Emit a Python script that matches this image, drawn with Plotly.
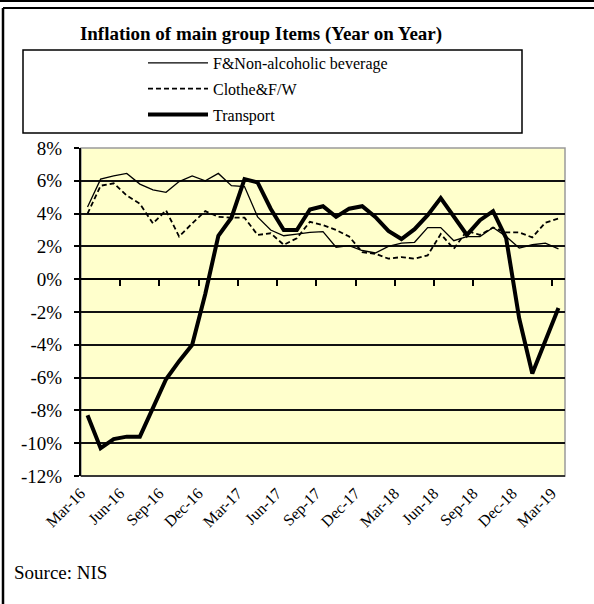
import plotly.graph_objects as go

months = ["Mar-16","Apr-16","May-16","Jun-16","Jul-16","Aug-16","Sep-16","Oct-16","Nov-16","Dec-16",
          "Jan-17","Feb-17","Mar-17","Apr-17","May-17","Jun-17","Jul-17","Aug-17","Sep-17","Oct-17",
          "Nov-17","Dec-17","Jan-18","Feb-18","Mar-18","Apr-18","May-18","Jun-18","Jul-18","Aug-18",
          "Sep-18","Oct-18","Nov-18","Dec-18","Jan-19","Feb-19","Mar-19"]

food = [4.4, 6.1, 6.3, 6.45, 5.8, 5.45, 5.3, 5.95, 6.3, 6.0,
        6.45, 5.7, 5.65, 3.8, 3.0, 2.65, 2.75, 2.85, 2.9, 1.95,
        2.05, 1.75, 1.6, 2.0, 2.2, 2.25, 3.15, 3.15, 2.35, 2.6,
        2.6, 3.15, 2.6, 1.9, 2.1, 2.2, 1.85]

clothing = [4.0, 5.7, 5.85, 5.1, 4.6, 3.4, 4.2, 2.6, 3.4, 4.15,
            3.8, 3.75, 3.75, 2.7, 2.8, 2.1, 2.5, 3.5, 3.3, 3.0,
            2.6, 1.65, 1.55, 1.25, 1.35, 1.25, 1.45, 2.75, 1.85, 2.95,
            2.7, 3.15, 2.85, 2.85, 2.55, 3.45, 3.7]

transport = [-8.3, -10.3, -9.75, -9.6, -9.6, -7.8, -6.1, -5.0, -4.0, -0.9,
             2.65, 3.75, 6.1, 5.9, 4.3, 3.0, 3.0, 4.25, 4.45, 3.8,
             4.3, 4.45, 3.8, 2.95, 2.45, 3.05, 3.9, 4.95, 3.85, 2.7,
             3.6, 4.15, 2.5, -2.4, -5.75, -3.8, -1.75]

y_ticks = [8, 6, 4, 2, 0, -2, -4, -6, -8, -10, -12]

title_text = "<b>Inflation of main group Items (Year on Year)</b>"
source_text = "Source: NIS"

W, H = 594, 604
L, R, T, B = 81, 565, 148, 476
FONT = "Liberation Serif"

def px_x(p):
    return (p - L) / (R - L)

def px_y(p):
    return (B - p) / (B - T)

idx = list(range(len(months)))

fig = go.Figure()
fig.add_trace(go.Scatter(x=idx, y=food, mode="lines", name="F&amp;Non-alcoholic beverage",
                         line=dict(color="black", width=1.3), legendgroup="a"))
fig.add_trace(go.Scatter(x=idx, y=clothing, mode="lines", name="Clothe&amp;F/W",
                         line=dict(color="black", width=1.8, dash="5px,3px"), legendgroup="b"))
fig.add_trace(go.Scatter(x=idx, y=transport, mode="lines", name="Transport",
                         line=dict(color="black", width=4), legendgroup="c"))
# carrier trace for the zero-line category axis (invisible)
fig.add_trace(go.Scatter(x=idx, y=food, mode="lines", xaxis="x2", showlegend=False,
                         hoverinfo="skip", line=dict(color="rgba(0,0,0,0)", width=0)))

fig.update_layout(
    width=W, height=H,
    margin=dict(l=L, r=W - R, t=T, b=H - B, pad=0, autoexpand=False),
    paper_bgcolor="white",
    plot_bgcolor="#FFFFCC",
    font=dict(family=FONT, color="black", size=16),
    title=dict(text=title_text, x=261 / W, xanchor="center", xref="container",
               y=1 - 33 / H, yref="container", yanchor="middle",
               font=dict(family=FONT, size=19, color="black")),
    showlegend=True,
    legend=dict(xref="paper", yref="paper", x=px_x(143), y=px_y(46),
                xanchor="left", yanchor="top", bgcolor="rgba(0,0,0,0)",
                borderwidth=0, tracegroupgap=2, itemwidth=60,
                font=dict(family=FONT, size=16, color="black")),
    xaxis=dict(range=[-0.5, len(months) - 0.5], tickmode="array",
               tickvals=idx[::3], ticktext=months[::3], tickangle=-45,
               showgrid=False, zeroline=False, showline=False, ticks="",
               tickfont=dict(family=FONT, size=16, color="black"),
               ticklabelstandoff=4, ticklabelshift=-7, automargin=False),
    xaxis2=dict(range=[-0.5, len(months) - 0.5], overlaying="x", anchor="free",
                position=(0 - y_ticks[-1]) / (y_ticks[0] - y_ticks[-1]),
                side="bottom", tickmode="array",
                tickvals=[i + 0.5 for i in idx[2:-1:3]],
                ticks="outside", ticklen=6, tickwidth=1.5, tickcolor="black",
                showticklabels=False, showgrid=False, zeroline=False,
                showline=True, linecolor="black", linewidth=1.5, automargin=False),
    yaxis=dict(range=[y_ticks[-1], y_ticks[0]], tickmode="array", tickvals=y_ticks,
               ticktext=[f"{v}%" for v in y_ticks],
               showgrid=True, gridcolor="#111111", gridwidth=1.5,
               zeroline=False, showline=True, linecolor="black", linewidth=2,
               ticks="outside", ticklen=5, tickwidth=1.5, tickcolor="black",
               ticklabelstandoff=8, automargin=False,
               tickfont=dict(family=FONT, size=19, color="black")),
)

shapes = [
    # plot-area border (gray, top/right)
    dict(type="rect", xref="paper", yref="paper", x0=0, x1=1, y0=0, y1=1,
         line=dict(color="#9a9a9a", width=1.5), layer="below"),
    # bottom edge line at -12%
    dict(type="line", xref="paper", yref="paper", x0=0, x1=1, y0=0, y1=0,
         line=dict(color="#111111", width=1.5)),
    # legend box
    dict(type="rect", xref="paper", yref="paper", x0=px_x(23), x1=px_x(522),
         y0=px_y(133), y1=px_y(50), line=dict(color="black", width=1.5)),
    # outer frame
    dict(type="line", xref="paper", yref="paper", x0=px_x(3), x1=px_x(600),
         y0=px_y(8), y1=px_y(8), line=dict(color="black", width=2)),
    dict(type="line", xref="paper", yref="paper", x0=px_x(3), x1=px_x(3),
         y0=px_y(8), y1=px_y(610), line=dict(color="black", width=2.5)),
    dict(type="line", xref="paper", yref="paper", x0=px_x(0), x1=px_x(600),
         y0=px_y(1), y1=px_y(1), line=dict(color="black", width=2)),
]
fig.update_layout(shapes=shapes)

fig.add_annotation(text=source_text, xref="paper", yref="paper",
                   x=px_x(12), y=px_y(572), xanchor="left", yanchor="middle",
                   showarrow=False, font=dict(family=FONT, size=19, color="black"))

fig.write_html("out.html", config={"displayModeBar": False},
               post_script="document.body.style.margin='0';")
